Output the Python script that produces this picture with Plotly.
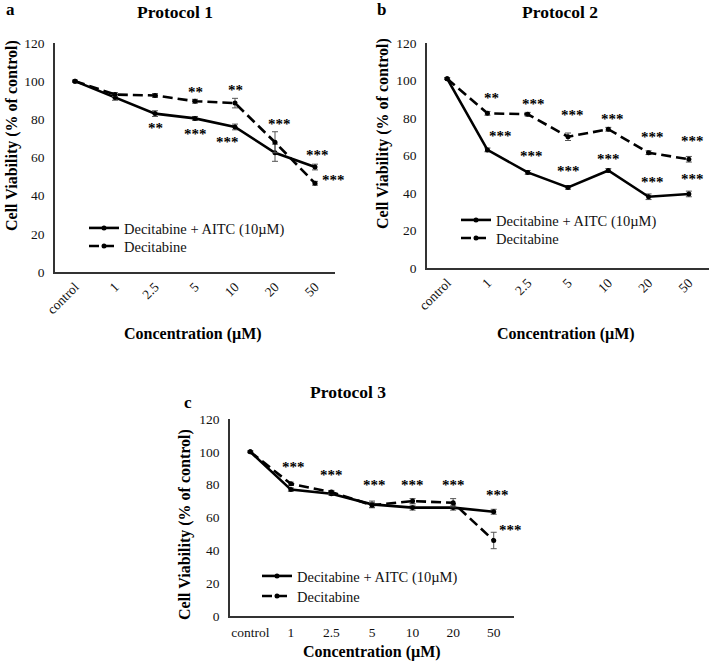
import plotly.graph_objects as go

W, H = 711, 665

categories = ["control", "1", "2.5", "5", "10", "20", "50"]

p1_combo = [100, 91.5, 83, 80.5, 76, 62.5, 55]
p1_combo_err = [0.5, 1.5, 1.5, 1, 1.5, 4.5, 1.5]
p1_deci = [100, 93, 92.5, 89.5, 88.5, 68, 46.5]
p1_deci_err = [0.5, 1, 1, 1, 2.5, 5.5, 1]

p2_combo = [101, 63, 51, 43, 52, 38, 39.5]
p2_combo_err = [0.5, 1, 1, 1, 1, 1.5, 1.5]
p2_deci = [101, 82.5, 82, 70, 74, 61.5, 58]
p2_deci_err = [0.5, 1, 1, 2, 1, 1, 1.5]

p3_combo = [100, 77, 74.5, 68, 66, 66, 63.5]
p3_combo_err = [0.5, 1, 1, 2, 1.5, 1.5, 1.5]
p3_deci = [100, 80.5, 75.5, 67.5, 70, 69, 46]
p3_deci_err = [0.5, 1, 1, 1.5, 1.5, 2.5, 5]

y_ticks = [0, 20, 40, 60, 80, 100, 120]

combo_name = "Decitabine + AITC (10µM)"
deci_name = "Decitabine"

# significance labels: (category index, y value, text)
stars_p1 = [(2, 75.5, "**"), (3, 72.5, "***"), (3.8, 68, "***"),
            (3, 94.5, "**"), (4, 95.5, "**"), (5.1, 77.5, "***"),
            (6.05, 61.5, "***"), (6.45, 48, "***")]
stars_p2 = [(1.1, 90.5, "**"), (2.15, 87.5, "***"), (3.1, 81.5, "***"),
            (4.1, 79.5, "***"), (5.1, 70, "***"), (6.1, 67.5, "***"),
            (1.33, 70.5, "***"), (2.1, 59.5, "***"), (3.0, 51.5, "***"),
            (4.0, 58, "***"), (5.1, 46, "***"), (6.1, 47.5, "***")]
stars_p3 = [(1.07, 91, "***"), (2.0, 86, "***"), (3.05, 80, "***"),
            (4.0, 80, "***"), (5.0, 80, "***"), (6.1, 74, "***"),
            (6.42, 52.5, "***")]

FONT = "Liberation Serif"
INK = "#111111"

# layout: plot boxes in px, legend text start x and row centers in px
panels = [
    dict(combo=p1_combo, combo_err=p1_combo_err, deci=p1_deci, deci_err=p1_deci_err,
         stars=stars_p1, xd=(55, 335), yd=(272, 43), rot=True,
         legs=("legend", "legend2"), leg_x=125, leg_rows=(228, 246)),
    dict(combo=p2_combo, combo_err=p2_combo_err, deci=p2_deci, deci_err=p2_deci_err,
         stars=stars_p2, xd=(427, 709), yd=(268, 43), rot=True,
         legs=("legend3", "legend4"), leg_x=497, leg_rows=(220, 238)),
    dict(combo=p3_combo, combo_err=p3_combo_err, deci=p3_deci, deci_err=p3_deci_err,
         stars=stars_p3, xd=(230, 514), yd=(616, 419), rot=False,
         legs=("legend5", "legend6"), leg_x=298, leg_rows=(576, 596)),
]

fig = go.Figure()
annotations = []
layout = {}
leg_font = dict(family=FONT, size=14.5, color=INK)

for i, p in enumerate(panels):
    n = "" if i == 0 else str(i + 1)
    xa, ya = "x" + n, "y" + n
    fig.add_trace(go.Scatter(
        x=categories, y=p["combo"], name=combo_name, xaxis=xa, yaxis=ya,
        mode="lines+markers", legend=p["legs"][0],
        line=dict(color="black", width=2.6),
        marker=dict(color="black", size=5),
        error_y=dict(type="data", array=p["combo_err"], color="#555", thickness=1, width=3),
    ))
    fig.add_trace(go.Scatter(
        x=categories, y=p["deci"], name=deci_name, xaxis=xa, yaxis=ya,
        mode="lines+markers", legend=p["legs"][1],
        line=dict(color="black", width=2.6, dash="10px,5px"),
        marker=dict(color="black", size=5),
        error_y=dict(type="data", array=p["deci_err"], color="#555", thickness=1, width=3),
    ))
    layout["xaxis" + n] = dict(
        domain=[p["xd"][0] / W, p["xd"][1] / W], anchor=ya, type="category",
        range=[-0.5, 6.5], showline=True, linecolor="#333", linewidth=1.5,
        showgrid=False, zeroline=False,
        ticks="" if p["rot"] else "outside", ticklen=3,
        tickcolor="rgba(0,0,0,0)", tickangle=-45 if p["rot"] else 0,
        tickfont=dict(family=FONT, size=13.5, color=INK),
        fixedrange=True, automargin=False,
    )
    layout["yaxis" + n] = dict(
        domain=[1 - p["yd"][0] / H, 1 - p["yd"][1] / H], anchor=xa,
        range=[0, 120], tickvals=y_ticks, showline=True, linecolor="#333", linewidth=1.5,
        showgrid=False, zeroline=False, ticks="outside", ticklen=6,
        tickcolor="rgba(0,0,0,0)", tickfont=dict(family=FONT, size=13.5, color=INK),
        fixedrange=True, automargin=False,
    )
    for (cx, cy, txt) in p["stars"]:
        annotations.append(dict(x=cx, y=cy, xref=xa, yref=ya, text="<b>%s</b>" % txt,
                                showarrow=False,
                                font=dict(family=FONT, size=15, color="black")))
    for leg, row in zip(p["legs"], p["leg_rows"]):
        layout[leg] = dict(x=(p["leg_x"] - 41) / W, y=1 - row / H, xanchor="left",
                           yanchor="middle", font=leg_font, bgcolor="rgba(0,0,0,0)",
                           itemwidth=30)


def pa(text, x, y, size, bold=True, angle=0):
    annotations.append(dict(
        x=x / W, y=1 - y / H, xref="paper", yref="paper", showarrow=False,
        text="<b>%s</b>" % text if bold else text, textangle=angle,
        xanchor="center", yanchor="middle",
        font=dict(family=FONT, size=size, color="black")))


pa("a", 10, 9, 17)
pa("b", 382, 9, 17)
pa("c", 188, 402, 17)
pa("Protocol 1", 175, 12, 17.5)
pa("Protocol 2", 560, 12, 17.5)
pa("Protocol 3", 348, 392, 17.5)
pa("Concentration (µM)", 193, 334, 16)
pa("Concentration (µM)", 566, 334, 16)
pa("Concentration (µM)", 372, 652, 16)
pa("Cell Viability (% of control)", 12, 136, 16, angle=-90)
pa("Cell Viability (% of control)", 383, 134, 16, angle=-90)
pa("Cell Viability (% of control)", 185, 525, 16, angle=-90)

fig.update_layout(
    width=W, height=H, autosize=False,
    margin=dict(l=0, r=0, t=0, b=0, autoexpand=False),
    paper_bgcolor="white", plot_bgcolor="white",
    showlegend=True, annotations=annotations, **layout,
)

fig.write_html(
    "out.html",
    config={"displayModeBar": False},
    post_script="document.body.style.margin='0';document.body.style.overflow='hidden';",
)
